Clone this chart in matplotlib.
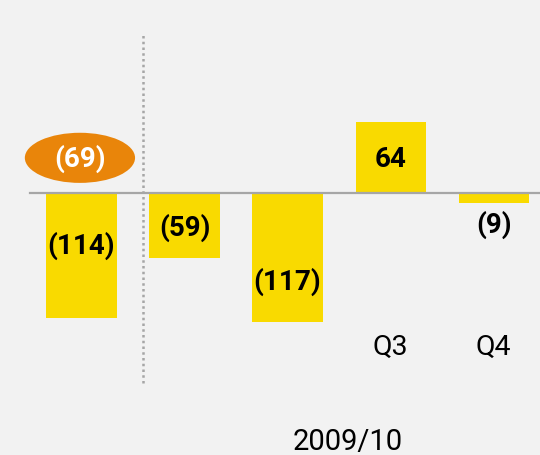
import matplotlib
matplotlib.use("Agg")
import matplotlib.pyplot as plt
from matplotlib.patches import Ellipse

values = [-114, -59, -117, 64, -9]
labels = ["(114)", "(59)", "(117)", "64", "(9)"]
quarter_labels = ["", "", "", "Q3", "Q4"]
bubble_value = "(69)"
period_label = "2009/10"

bg = "#f2f2f2"
yellow = "#f9da00"
orange = "#e9850a"

fig = plt.figure(figsize=(5.4, 4.56), dpi=100, facecolor=bg)
ax = fig.add_axes([0, 0, 1, 1])
ax.set_facecolor(bg)
ax.set_xlim(-0.791, 4.451)
ax.set_ylim(-238, 176)
ax.axis("off")

x = list(range(len(values)))
ax.bar(x, values, width=0.68, color=yellow, zorder=2)
ax.plot([-0.5, 4.6], [0, 0], color="#a6a6a6", lw=1.6, zorder=3)
ax.plot([0.597, 0.597], [-172.7, 144.5], color="#a6a6a6", lw=1.8,
        linestyle=(0, (1, 1.3)), zorder=1)

fs = 20
fontb = dict(family="Roboto", fontweight="bold", fontsize=fs, color="black")
label_y = [-47, -31, -80, 31, -28]
for xi, lab, ly in zip(x, labels, label_y):
    ax.text(xi, ly, lab, ha="center", va="center", **fontb)

for xi, q in zip(x, quarter_labels):
    if q:
        ax.text(xi, -139, q, ha="center", va="center", family="Roboto",
                fontsize=20.5, color="black")

ax.text(2.58, -225, period_label, ha="center", va="center", family="Roboto",
        fontsize=21, color="black")

ell = Ellipse((-0.015, 31.8), 1.07, 45.5, facecolor=orange, edgecolor="none", zorder=4)
ax.add_patch(ell)
ax.text(-0.015, 32, bubble_value, ha="center", va="center", zorder=5,
        family="Roboto", fontweight="bold", fontsize=fs, color="white")

fig.savefig("out.png", dpi=100, facecolor=bg)
